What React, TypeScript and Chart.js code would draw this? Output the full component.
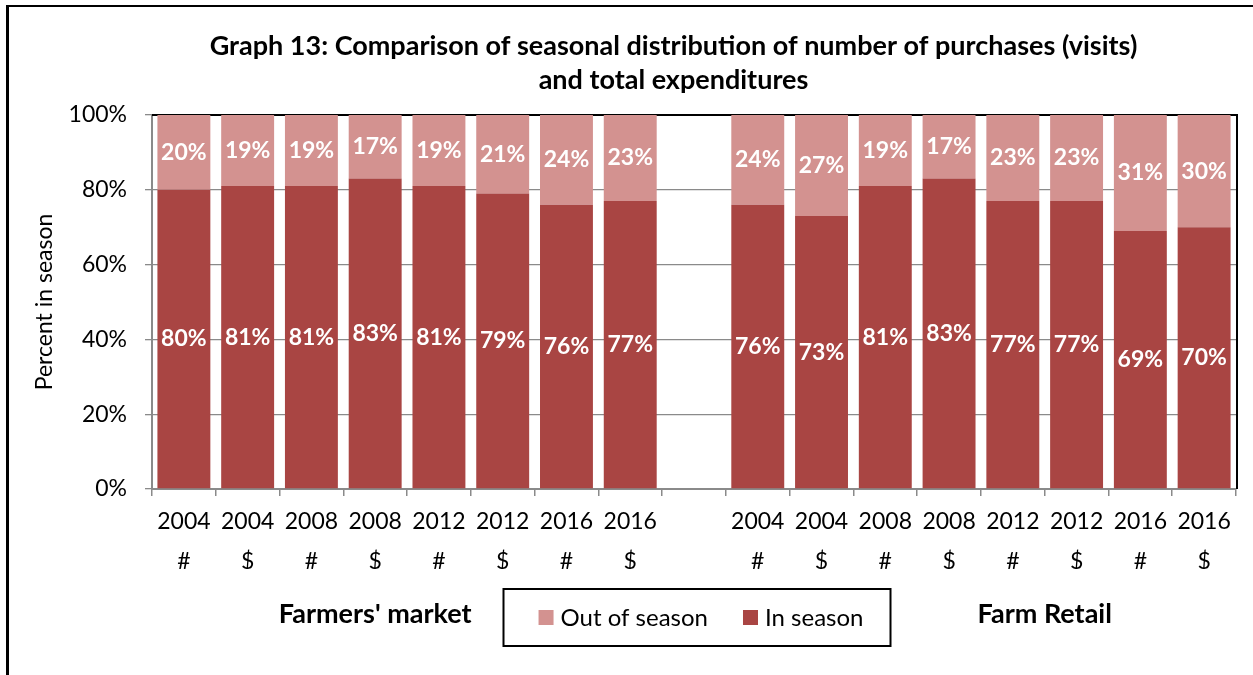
import React, { useEffect, useRef } from "react";
import { Chart, registerables } from "chart.js";

Chart.register(...registerables);

// ---- data ----
const years = ["2004", "2004", "2008", "2008", "2012", "2012", "2016", "2016"];
const measures = ["#", "$", "#", "$", "#", "$", "#", "$"];
const groupNames = ["Farmers' market", "Farm Retail"];
const fmInSeason = [80, 81, 81, 83, 81, 79, 76, 77];
const fmOutSeason = [20, 19, 19, 17, 19, 21, 24, 23];
const frInSeason = [76, 73, 81, 83, 77, 77, 69, 70];
const frOutSeason = [24, 27, 19, 17, 23, 23, 31, 30];
const yTicks = [0, 20, 40, 60, 80, 100];
const titleLines = [
  "Graph 13: Comparison of seasonal distribution of number of purchases (visits)",
  "and total expenditures",
];
const yTitle = "Percent in season";
const seriesNames = ["In season", "Out of season"];
const seriesColors = ["#A94543", "#D39290"];

const FONT = "Lato";

const groupLabels = years.map((y, i) => [y, measures[i]]);
const labels: any[] = [...groupLabels, "", ...groupLabels];
const inData: (number | null)[] = [...fmInSeason, null, ...frInSeason];
const outData: (number | null)[] = [...fmOutSeason, null, ...frOutSeason];
// category index (centre) where each group caption sits
const groupAnchors = [3, 13.5];

const plotBorderPlugin = {
  id: "plotBorder",
  beforeDatasetsDraw(chart: any) {
    const { ctx, chartArea } = chart;
    ctx.save();
    ctx.strokeStyle = "#000";
    ctx.lineWidth = 2;
    ctx.beginPath();
    ctx.moveTo(chartArea.left, chartArea.top);
    ctx.lineTo(chartArea.right + 1, chartArea.top);
    ctx.lineTo(chartArea.right + 1, chartArea.bottom);
    ctx.stroke();
    ctx.restore();
  },
};

const valueLabelPlugin = {
  id: "valueLabels",
  afterDatasetsDraw(chart: any) {
    const { ctx } = chart;
    ctx.save();
    ctx.font = `bold 23px ${FONT}`;
    ctx.fillStyle = "#fff";
    ctx.textAlign = "center";
    ctx.textBaseline = "middle";
    chart.data.datasets.forEach((ds: any, di: number) => {
      const meta = chart.getDatasetMeta(di);
      meta.data.forEach((el: any, i: number) => {
        const v = ds.data[i];
        if (v === null || v === undefined) return;
        ctx.fillText(`${v}%`, el.x, (el.y + el.base) / 2);
      });
    });
    ctx.restore();
  },
};

const captionsPlugin = {
  id: "captions",
  afterLayout(chart: any) {
    if (chart.titleBlock) {
      chart.titleBlock.left += 91;
    }
  },
  afterDraw(chart: any) {
    const { ctx, chartArea } = chart;
    const xScale = chart.scales.x;
    ctx.save();
    // group captions
    ctx.font = `bold 27px ${FONT}`;
    ctx.fillStyle = "#000";
    ctx.textAlign = "center";
    ctx.textBaseline = "middle";
    groupNames.forEach((name, i) => {
      ctx.fillText(name, xScale.getPixelForValue(groupAnchors[i]), chartArea.bottom + 125);
    });

    // boxed legend (Out of season first)
    const items = chart.data.datasets
      .map((d: any) => ({ text: d.label, color: d.backgroundColor }))
      .reverse();
    ctx.font = `24px ${FONT}`;
    const box = 15;
    const gapText = 7;
    const gapItem = 35;
    const widths = items.map((it: any) => ctx.measureText(it.text).width);
    const total =
      widths.reduce((a: number, w: number) => a + box + gapText + w, 0) + gapItem * (items.length - 1);
    const cxArea = (chartArea.left + chartArea.right) / 2;
    const cy = chartArea.bottom + 128.5;
    let x = cxArea + 7 - total / 2;
    ctx.textAlign = "left";
    items.forEach((it: any, i: number) => {
      ctx.fillStyle = it.color;
      ctx.fillRect(x, cy - box / 2, box, box);
      ctx.fillStyle = "#000";
      ctx.fillText(it.text, x + box + gapText, cy + 1);
      x += box + gapText + widths[i] + gapItem;
    });
    ctx.strokeStyle = "#000";
    ctx.lineWidth = 2;
    ctx.strokeRect(cxArea + 3 - 193.5, cy - 28.5, 387, 57);
    ctx.restore();
  },
};

export default function App() {
  const canvasRef = useRef<HTMLCanvasElement | null>(null);

  useEffect(() => {
    if (!canvasRef.current) return;
    Chart.defaults.font.family = FONT;
    Chart.defaults.color = "#000";
    const chart = new Chart(canvasRef.current, {
      type: "bar",
      data: {
        labels,
        datasets: [
          {
            label: seriesNames[0],
            data: inData,
            backgroundColor: seriesColors[0],
            borderWidth: 0,
            barPercentage: 0.83,
            categoryPercentage: 1,
          },
          {
            label: seriesNames[1],
            data: outData,
            backgroundColor: seriesColors[1],
            borderWidth: 0,
            barPercentage: 0.83,
            categoryPercentage: 1,
          },
        ],
      },
      options: {
        responsive: false,
        animation: false,
        events: [],
        layout: { padding: { left: 20, right: 17, top: 0, bottom: 106 } },
        plugins: {
          legend: { display: false },
          tooltip: { enabled: false },
          title: {
            display: true,
            text: titleLines,
            color: "#000",
            font: { family: FONT, weight: "bold", size: 27, lineHeight: 34 / 27 },
            padding: { top: 29, bottom: 18 },
          },
        },
        scales: {
          x: {
            stacked: true,
            offset: true,
            afterFit: (s: any) => {
              s.height = 80;
            },
            grid: {
              offset: true,
              drawOnChartArea: false,
              drawTicks: true,
              tickLength: 7,
              color: "#8a8a8a",
              lineWidth: 1.5,
            },
            border: { color: "#8a8a8a", width: 2 },
            ticks: {
              autoSkip: false,
              maxRotation: 0,
              minRotation: 0,
              padding: 6,
              color: "#000",
              font: { family: FONT, size: 23, lineHeight: 39.5 / 23 },
            },
          },
          y: {
            stacked: true,
            min: 0,
            max: 100,
            afterFit: (s: any) => {
              s.width = 132;
            },
            afterBuildTicks: (s: any) => {
              s.ticks = yTicks.map((v) => ({ value: v }));
            },
            grid: {
              color: "#8a8a8a",
              lineWidth: 1.3,
              drawTicks: true,
              tickLength: 7,
            },
            border: { color: "#8a8a8a", width: 2 },
            ticks: {
              padding: 18,
              color: "#000",
              font: { family: FONT, size: 23 },
              callback: (v: any) => `${v}%`,
            },
            title: {
              display: true,
              text: yTitle,
              color: "#000",
              font: { family: FONT, size: 23 },
              padding: { top: 11, bottom: 0 },
            },
          },
        },
      },
      plugins: [plotBorderPlugin, valueLabelPlugin, captionsPlugin],
    });
    return () => chart.destroy();
  }, []);

  return (
    <div
      style={{
        position: "absolute",
        left: 0,
        top: 0,
        width: 1253,
        height: 675,
        overflow: "hidden",
        background: "#fff",
      }}
    >
      <canvas
        ref={canvasRef}
        width={1253}
        height={675}
        style={{ position: "absolute", left: 0, top: 0, width: 1253, height: 675 }}
      />
      <div
        style={{
          position: "absolute",
          left: 6,
          top: 5,
          width: 1400,
          height: 800,
          borderLeft: "3px solid #000",
          borderTop: "2px solid #000",
          pointerEvents: "none",
        }}
      />
    </div>
  );
}
